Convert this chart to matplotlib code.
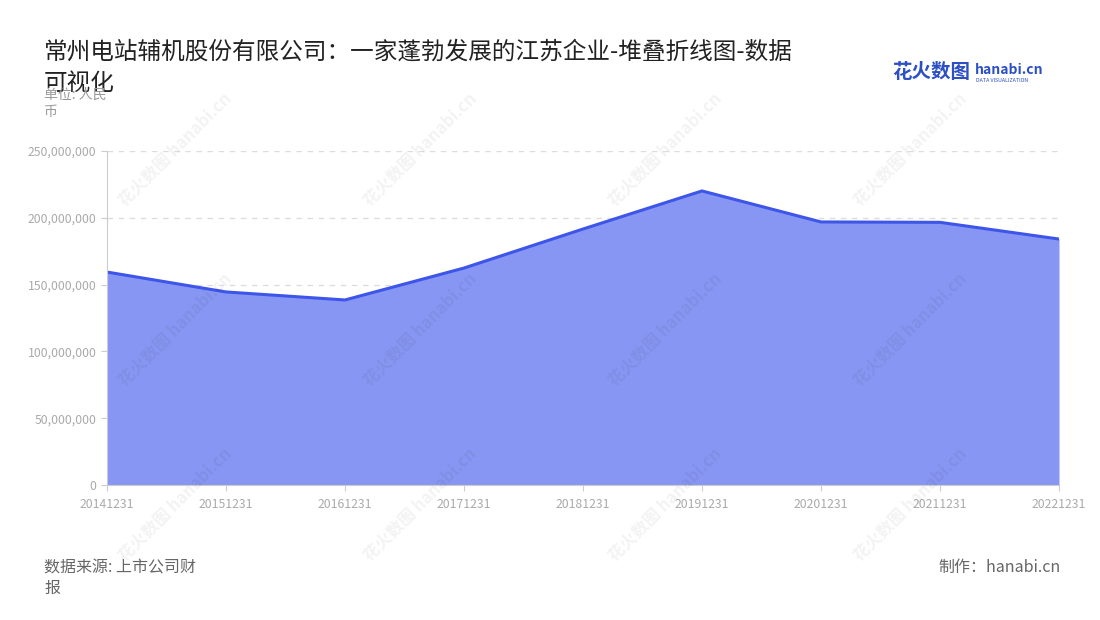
import numpy as np
import matplotlib
matplotlib.use("Agg")
import matplotlib.pyplot as plt
from matplotlib.ticker import FuncFormatter

plt.rcParams['font.family'] = ['Noto Sans CJK SC', 'DejaVu Sans']

dates = ['20141231', '20151231', '20161231', '20171231', '20181231',
         '20191231', '20201231', '20211231', '20221231']
values = [159.4e6, 144.5e6, 138.5e6, 162.4e6, 191.6e6,
          220.1e6, 196.9e6, 196.6e6, 184.1e6]
yticks = [0, 50e6, 100e6, 150e6, 200e6, 250e6]

title = '常州电站辅机股份有限公司：一家蓬勃发展的江苏企业-堆叠折线图-数据\n可视化'

fig = plt.figure(figsize=(11, 6.2), dpi=100)
ax = fig.add_axes([107 / 1100, 1 - 485 / 620, (1059 - 107) / 1100, (485 - 151) / 620])

x = np.arange(len(dates))
ax.fill_between(x, 0, values, color='#8796f2', lw=0)
ax.plot(x, values, color='#3d55e8', lw=2.2)

ax.set_xlim(0, len(dates) - 1)
ax.set_ylim(0, 250e6)
ax.set_yticks(yticks)
ax.yaxis.set_major_formatter(FuncFormatter(lambda v, p: f'{int(v):,}'))
ax.set_xticks(x)
ax.set_xticklabels(dates)
ax.tick_params(axis='both', colors='#cccccc', labelcolor='#aaaaaa', labelsize=8.8, length=4)
ax.tick_params(axis='x', pad=5)

for s in ['top', 'right']:
    ax.spines[s].set_visible(False)
ax.spines['left'].set_color('#cccccc')
ax.spines['bottom'].set_color('#cccccc')
ax.grid(axis='y', color='#dddddd', linestyle=(0, (4, 4)), lw=1)
ax.set_axisbelow(True)

# watermarks
for wx in [175, 420, 665, 910]:
    for wy in [150, 330, 505]:
        fig.text(wx / 1100, 1 - wy / 620, '花火数图 hanabi.cn', rotation=45, fontsize=12,
                 color='#000000', alpha=0.05, ha='center', va='center',
                 fontweight='bold')

fig.text(44 / 1100, 1 - 41 / 620, title, fontsize=17, color='#222222',
         ha='left', va='top', linespacing=1.45)
fig.text(44 / 1100, 1 - 88 / 620, '单位: 人民\n币', fontsize=10, color='#999999',
         ha='left', va='top', linespacing=1.3)

# logo
fig.text(892 / 1100, 1 - 72 / 620, '花火数图', fontsize=14, color='#2b4fc4',
         fontweight='bold', ha='left', va='center')
fig.text(975 / 1100, 1 - 70 / 620, 'hanabi.cn', fontsize=10, color='#2b4fc4',
         fontweight='bold', ha='left', va='center')
fig.text(976 / 1100, 1 - 80 / 620, 'DATA VISUALIZATION', fontsize=3.8, color='#2b4fc4',
         ha='left', va='center')

fig.text(44 / 1100, 1 - 559 / 620, '数据来源: 上市公司财\n报', fontsize=11.5, color='#666666',
         ha='left', va='top', linespacing=1.3)
fig.text(1061 / 1100, 1 - 567 / 620, '制作：hanabi.cn', fontsize=11.5, color='#666666',
         ha='right', va='center')

fig.savefig('out.png', dpi=100)
